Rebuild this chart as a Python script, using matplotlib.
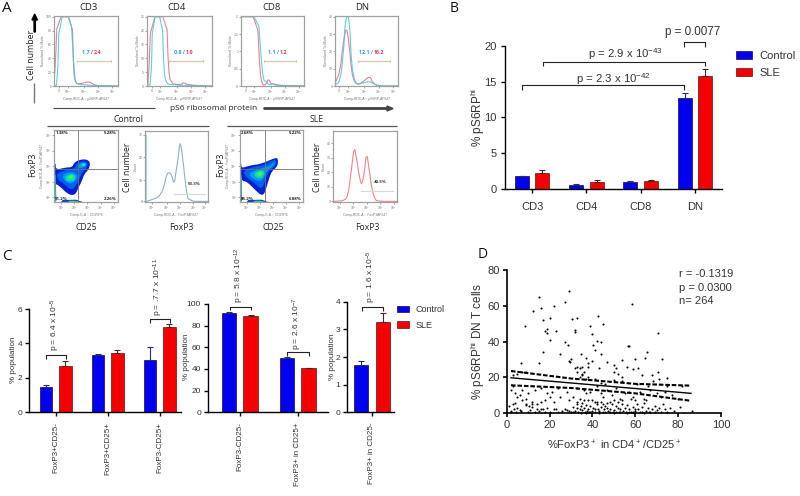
import numpy as np
import matplotlib
matplotlib.use('Agg')
import matplotlib.pyplot as plt
from matplotlib.patches import FancyArrow, Polygon

plt.rcParams['font.family'] = ['Liberation Sans', 'DejaVu Sans']
plt.rcParams['mathtext.default'] = 'regular'

BLUE = '#0000f0'
RED = '#f50000'
DARK = '#333333'
W, H = 800, 496

# ---------- panel B ----------
b_cats = ['CD3', 'CD4', 'CD8', 'DN']
b_control = [1.8, 0.6, 1.0, 12.7]
b_sle = [2.3, 1.0, 1.1, 15.8]
b_control_err = [0.07, 0.08, 0.06, 0.7]
b_sle_err = [0.3, 0.3, 0.15, 1.0]

# ---------- panel C ----------
c1_cats = ['FoxP3+CD25-', 'FoxP3+CD25+', 'FoxP3-CD25+']
c1_control = [1.45, 3.33, 3.04]
c1_sle = [2.7, 3.44, 4.93]
c1_control_err = [0.14, 0.04, 0.73]
c1_sle_err = [0.3, 0.15, 0.22]

c2_cats = ['FoxP3-CD25-', 'FoxP3+ in CD25+']
c2_control = [92, 50]
c2_sle = [89, 40.5]
c2_control_err = [0.5, 1.0]
c2_sle_err = [0.5, 0.8]

c3_cats = ['FoxP3+ in CD25-']
c3_control = [1.7]
c3_sle = [3.25]
c3_control_err = [0.14]
c3_sle_err = [0.34]

# ---------- panel D ----------
d_upper = [(15,65),(29,68.5),(16,59),(12.5,57),(22,60),(27,62),(58.5,61),(8.5,48.5),(17,52),(20,53),
 (30.5,52.5),(33,53),(42.5,54),(45,50),(19,47),(18,46),(23,46),(32,46.5),(32,45.5),(39,48.5),
 (40,44),(19,44.5),(20,41),(27,40),(28.5,38),(42,40.5),(44,39.5),(40.5,38),(41,35),(17,34),
 (25,33),(34.5,33),(44,33),(70.5,45),(65.5,34),(57,37.5),(56.5,37.5),(64.5,31),(60,30),(72.5,30),
 (54,29.5),(6.5,28),(15,28),(29,29),(30,30),(29.5,28.5),(37,31),(38,28),(40,29),(47,28.5),
 (50,27),(51,25),(33,26),(32,25),(34,25),(35,26),(38,26),(43,25),(56,26),(59,24.5),
 (61.5,25),(50,23),(52,22),(70.5,23),(68,21.5),(63,21.5),(75,19.5),(7,23),(9,23),(5,22),
 (3,21),(33,23),(35,22),(36,23),(35,21),(34,20),(38,20),(41,19),(50,18.5),(54,20),
 (54,18),(71,19),(68.5,18),(37,19),(46,16),(44,17),(61,16),(66,15),(75,15),(82,15)]
d_middle = [(2,13),(3,15),(4,11),(5,9),(6,10),(7,13),(9,8),(10,11),(13,13),(16,14),
 (19,11),(20,9),(21,12),(24,14),(25,9),(28,12),(31,9),(33,14),(36,13),(37,11),
 (34,8),(39,12),(42,15),(44,11),(45,9),(47,13),(49,10),(51,14),(53,8),(55,11),
 (57,12),(59,9),(62,12),(64,8),(67,13),(70,11),(72,9),(74,12),(77,10),(80,8),
 (36,7),(38,7),(40,7),(42,6),(44,6),(50,7),(52,6),(54,7),(58,8),(60,7),
 (16,6),(12,6),(9,5),(14,5),(18,7),(22,6),(29,7),(33,6),(48,6),(65,7)]
d_lower = [(1,4),(2,1),(2,0.5),(3,5),(3.5,2),(4,5.5),(4.5,0.5),(5,3),(6,1.5),(6.5,1.3),
 (7,7),(9,4.5),(10.5,4),(12,3.5),(12,5),(14,2),(15,1),(16,2.5),(17,2.5),(19,3),
 (20,0.5),(22,2.5),(23,2),(26,1),(27,2.5),(28,1.5),(30,0.5),(31,3.5),(32,1),(33,3),
 (33.5,0.5),(34,2),(34.5,4),(35,1.5),(36,3),(36.5,0.5),(37,4.5),(37.5,1),(38,2.5),(38.5,0.3),
 (39,4),(40,1),(40.5,3),(41,0.5),(42,5),(42.5,2),(43,1),(44,3.5),(45,0.5),(45.5,2),
 (46,4),(47,3),(47.5,1),(48,2.5),(49,5),(49.5,0.5),(50,1.5),(51,4),(52,3),(52.5,0.3),
 (53,2),(54,5),(54.5,1),(55,3),(55.5,0.5),(56,4.5),(57,2),(58,0.5),(59,3.5),(60,1),
 (61,5),(61.5,2),(62,0.3),(63,3.5),(64,5.5),(65,1),(66,3),(66.5,0.5),(68,2),(69,4),
 (70,1.5),(71,3),(72,0.5),(73,5),(74,2),(75,0.5),(76,3),(78,1),(81,3.5),(86.5,1),
 (10,0.3),(11,1.5),(13,0.5),(18,0.4),(24,0.4),(29,1),(31,0.3),(34.5,0.2),(37,0.2),(39,0.6),
 (41,2),(43,0.2),(46,0.3),(48,0.4),(50,0.2),(51,0.6),(53,0.5),(56,0.2),(57,0.8),(59,0.3),
 (60,2.5),(63,0.6),(64,0.2),(67,0.4),(69,0.5),(33,5),(35,5.5),(41,6),(45,5),(47,5.5)]
d_points = d_upper + d_middle + d_lower
d_x = [p[0] for p in d_points]
d_y = [p[1] for p in d_points]
d_fit_x = [2, 86]
d_fit_y = [19.7, 11.0]
d_ci_x = [2, 30, 60, 86]
d_ci_hi = [23.5, 19.3, 16.3, 15.3]
d_ci_lo = [15.5, 14.0, 11.0, 6.8]

# ---------- panel A: histogram traces (crop units of the flow plots) ----------
cd3_cyan = [(42,242),(52,240),(58,33),(93,33),(100,150),(105,225),(112,238),(140,240),(170,242),(235,243)]
cd3_red = [(42,225),(46,180),(52,33),(97,33),(101,200),(107,235),(120,237),(148,229),(160,238),(175,242),(235,243)]
cd4_cyan = [(320,240),(333,240),(338,33),(366,33),(372,200),(378,232),(390,240),(515,243)]
cd4_red = [(320,240),(325,235),(333,33),(380,33),(385,190),(392,235),(420,240),(432,232),(442,240),(515,243)]
cd8_cyan = [(47,33),(100,33),(108,150),(115,225),(125,230),(132,240),(145,236),(155,242),(238,243)]
cd8_red = [(47,33),(97,33),(105,200),(112,240),(122,240),(131,220),(140,240),(238,243)]
dn_cyan = [(330,240),(345,230),(355,150),(362,33),(373,33),(380,180),(390,232),(400,238),(420,232),(432,230),(440,232),(460,243),(520,243)]
dn_red = [(330,235),(345,200),(355,110),(364,62),(372,110),(380,200),(390,235),(405,238),(420,225),(435,213),(445,235),(460,243),(520,243)]
fox_ctrl = [(333,231),(335,230),(350,225),(370,218),(385,195),(395,150),(402,142),(410,150),(418,180),(425,130),(430,100),(435,52),(440,70),(447,130),(455,200),(462,230),(520,230)]
fox_sle = [(325,230),(360,228),(370,210),(380,130),(388,62),(395,100),(405,165),(411,180),(418,140),(425,80),(432,130),(440,190),(450,225),(460,230),(515,230)]

# density outlines, outer to inner
dens1_levels = [
 ('#0a20d0', [(60,112),(63,135),(92,128),(112,127),(118,112),(140,103),(160,105),(166,118),(160,135),(148,148),(140,170),(130,190),(122,208),(110,212),(95,205),(80,190),(65,178),(60,180)]),
 ('#0060f0', [(65,145),(95,135),(120,130),(125,115),(145,108),(158,112),(155,130),(140,145),(130,170),(115,195),(100,190),(85,175),(68,165)]),
 ('#00a0f0', [(80,150),(110,140),(128,150),(125,165),(108,178),(90,170)]),
 ('#00a0f0', [(130,118),(150,112),(155,122),(140,130),(130,128)]),
 ('#10e0a0', [(92,155),(110,145),(122,155),(118,168),(102,170),(92,165)]),
 ('#20e0e0', [(140,116),(150,114),(152,122),(142,125)]),
 ('#50f050', [(100,155),(112,150),(116,157),(106,164)]),
]
dens2_levels = [
 ('#0a20d0', [(48,118),(50,130),(75,122),(110,117),(155,97),(160,105),(158,125),(140,140),(130,170),(120,205),(110,213),(90,195),(65,170),(48,168)]),
 ('#0060f0', [(53,138),(90,125),(120,120),(150,102),(155,112),(150,125),(130,140),(120,170),(110,195),(90,175),(65,160)]),
 ('#00a0f0', [(70,145),(110,130),(135,125),(148,110),(150,120),(125,138),(115,165),(100,170),(80,160)]),
 ('#10e0a0', [(85,145),(110,135),(120,142),(112,160),(95,160)]),
 ('#50f050', [(95,148),(108,140),(113,148),(105,155)]),
]

fig = plt.figure(figsize=(W/100, H/100), dpi=100)


def axpx(x0, y0, x1, y1):
    return fig.add_axes([x0/W, 1-y1/H, (x1-x0)/W, (y1-y0)/H])


def rounded(pts, closed=True, n=2):
    p = np.asarray(pts, float)
    for _ in range(n):
        q = np.roll(p, -1, axis=0) if closed else p[1:]
        a = p if closed else p[:-1]
        r = np.empty((2*len(a), 2))
        r[0::2] = 0.75*a + 0.25*q
        r[1::2] = 0.25*a + 0.75*q
        p = r if closed else np.vstack([p[:1], r, p[-1:]])
    return p


ov = fig.add_axes([0, 0, 1, 1], zorder=10)
ov.set_xlim(0, W); ov.set_ylim(H, 0); ov.axis('off'); ov.patch.set_alpha(0)


def T(x, y, s, size=8, color=DARK, rot=0, ha='center', va='center', **kw):
    ov.text(x, y, s, fontsize=size, color=color, rotation=rot, ha=ha, va=va, **kw)


def L(xs, ys, color='k', lw=0.8):
    ov.plot(xs, ys, color=color, lw=lw, solid_capstyle='butt')


def bracket(x0, x1, y, tip):
    L([x0, x0, x1, x1], [tip, y, y, tip], color='#222222', lw=0.8)


def bars(ax, ctrl, sle, cerr, serr, cats, width, off, size, rot=0):
    x = np.arange(len(cats))
    ax.bar(x-off, ctrl, width, color=BLUE, edgecolor='#200050', lw=0.5, label='Control',
           yerr=[np.zeros(len(ctrl)), cerr], error_kw=dict(ecolor='#203060', lw=0.8, capsize=2, capthick=0.8))
    ax.bar(x+off, sle, width, color=RED, edgecolor='#601010', lw=0.5, label='SLE',
           yerr=[np.zeros(len(sle)), serr], error_kw=dict(ecolor='#502020', lw=0.8, capsize=2, capthick=0.8))
    ax.set_xticks(x)
    ax.set_xticklabels(cats, rotation=rot, fontsize=size, color=DARK)
    ax.patch.set_alpha(0)
    for s in ('top', 'right'):
        ax.spines[s].set_visible(False)
    for s in ('left', 'bottom'):
        ax.spines[s].set_linewidth(1.0)
    ax.tick_params(axis='both', width=1.0, length=3, colors='k', labelcolor=DARK, pad=2)


# ---------- B ----------
axb = axpx(505, 45.7, 722, 189)
bars(axb, b_control, b_sle, b_control_err, b_sle_err, b_cats, 14/54.2, 10.2/54.2, 8)
axb.set_xlim(-0.5, 3.5); axb.set_ylim(0, 20)
axb.set_yticks([0, 5, 10, 15, 20])
axb.tick_params(axis='both', labelsize=8, pad=3)
axb.tick_params(axis='x', pad=6)
T(477.7, 118, '% pS6RP$^{hi}$', 8.5, rot=90)
bracket(522.3, 684.3, 85.3, 90)
bracket(542.7, 705, 61.7, 66)
bracket(683.7, 705, 42.3, 47.3)
T(614, 79, 'p = 2.3 x 10$^{-42}$', 8.2)
T(626, 54, 'p = 2.9 x 10$^{-43}$', 8.2)
T(693, 32, 'p = 0.0077', 8.4)
h, l = axb.get_legend_handles_labels()
fig.legend(h, l, loc='upper left', bbox_to_anchor=(735.5/W, 1-51/H), frameon=False, fontsize=8,
           borderpad=0, borderaxespad=0, handlelength=1.45, handleheight=0.75,
           handletextpad=0.72, labelspacing=0.62, labelcolor=DARK)

# ---------- C ----------
axc1 = axpx(29.3, 309, 181, 412.3)
bars(axc1, c1_control, c1_sle, c1_control_err, c1_sle_err, c1_cats, 12.7/52, 9.7/52, 5.8, 90)
axc1.set_xlim(-0.508, 2.41); axc1.set_ylim(0, 6); axc1.set_yticks([0, 2, 4, 6])
axc1.tick_params(axis='y', labelsize=6)
axc1.tick_params(axis='x', pad=4)
T(13.3, 360, '% population', 5.8, rot=90)

axc2 = axpx(208, 304, 328, 412.3)
bars(axc2, c2_control, c2_sle, c2_control_err, c2_sle_err, c2_cats, 14.7/58, 10.8/58, 5.8, 90)
axc2.set_xlim(-0.55, 1.52); axc2.set_ylim(0, 100); axc2.set_yticks(range(0, 101, 20))
axc2.tick_params(axis='y', labelsize=6)
axc2.tick_params(axis='x', pad=4)
T(186.7, 357, '% population', 5.8, rot=90)

axc3 = axpx(347, 301.7, 394, 412.3)
bars(axc3, c3_control, c3_sle, c3_control_err, c3_sle_err, c3_cats, 14.7/47, 11/47, 5.8, 90)
axc3.set_xlim(-0.53, 0.47); axc3.set_ylim(0, 4); axc3.set_yticks(range(0, 5))
axc3.tick_params(axis='y', labelsize=6)
axc3.tick_params(axis='x', pad=4)
T(332, 356.7, '% population', 5.8, rot=90)

bracket(45.7, 65.7, 355, 359)
bracket(149.7, 170, 319, 322.7)
bracket(229.7, 251.3, 306.7, 310)
bracket(287.3, 309.3, 352.3, 356)
bracket(362, 383.3, 307.3, 311)
T(55, 351, 'p = 6.4 x 10$^{-5}$', 6, rot=90, va='bottom')
T(158, 316, 'p = .7.7 x 10$^{-11}$', 6, rot=90, va='bottom')
T(239, 303, 'p = 5.8 x 10$^{-12}$', 6, rot=90, va='bottom')
T(297.5, 349.5, 'p = 2.6 x 10$^{-7}$', 6, rot=90, va='bottom')
T(371, 303, 'p = 1.6 x 10$^{-5}$', 6, rot=90, va='bottom')
h, l = axc3.get_legend_handles_labels()
fig.legend(h, l, loc='upper left', bbox_to_anchor=(397/W, 1-305/H), frameon=False, fontsize=6.5,
           borderpad=0, borderaxespad=0, handlelength=1.3, handleheight=0.7,
           handletextpad=0.75, labelspacing=0.75, labelcolor=DARK)

# ---------- D ----------
axd = axpx(506.7, 270, 721, 413)
axd.scatter(d_x, d_y, s=2.2, color='k', marker='o', linewidths=0, clip_on=False)
axd.plot(d_fit_x, d_fit_y, color='k', lw=1.0)
axd.plot(d_ci_x, d_ci_hi, color='k', lw=1.5, dashes=(2.2, 0.9))
axd.plot(d_ci_x, d_ci_lo, color='k', lw=1.5, dashes=(2.2, 0.9))
axd.set_xlim(0, 100); axd.set_ylim(0, 80)
axd.set_xticks(range(0, 101, 20)); axd.set_yticks(range(0, 81, 20))
axd.patch.set_alpha(0)
for s in ('top', 'right'):
    axd.spines[s].set_visible(False)
for s in ('left', 'bottom'):
    axd.spines[s].set_linewidth(1.2)
axd.tick_params(width=1.2, length=3, labelsize=8, labelcolor=DARK, pad=2)
T(478, 342, '% pS6RP$^{hi}$ DN T cells', 8.5, rot=90)
T(614, 445, '%FoxP3$^+$ in CD4$^+$/CD25$^+$', 8)
T(679, 274, 'r = -0.1319', 8, ha='left')
T(679, 288, 'p = 0.0300', 8, ha='left')
T(679, 301.5, 'n= 264', 8, ha='left')


# ---------- A ----------
def flow_ax(box, xlim, ylim, xticks, yticks, xlabels, ylabels, xname, yname):
    ax = axpx(*box)
    ax.set_xlim(*xlim); ax.set_ylim(*ylim)
    for s in ax.spines.values():
        s.set_color('#a0a0a0'); s.set_linewidth(0.9)
    ax.set_xticks(xticks); ax.set_xticklabels(xlabels, fontsize=2.4, color='#777777')
    ax.set_yticks(yticks); ax.set_yticklabels(ylabels, fontsize=2.4, color='#777777')
    ax.tick_params(length=1.2, width=0.4, color='#666666', pad=0.6)
    ax.set_xlabel(xname, fontsize=2.4, color='#777777', labelpad=0.8)
    ax.set_ylabel(yname, fontsize=2.4, color='#777777', labelpad=0.6)
    return ax


def trace(ax, pts, color, lw=0.8):
    p = rounded(pts, closed=False, n=1)
    ax.plot(p[:, 0], p[:, 1], color=color, lw=lw, alpha=0.85)


CYAN = '#40c8d8'
PINK = '#e86a80'
XN = 'Comp-RDC-A :: pS6RP-AF647'
YN = 'Normalized To Mode'
LOGS = ['0', '$10^2$', '$10^3$', '$10^4$', '$10^5$']
top = [
 ('CD3', (54, 15.7, 118, 86), (42, 235), (57, 83, 132, 175, 218), ['0', '20', '40', '60', '80', '100'], cd3_cyan, cd3_red, (112, 213), ('1.7', '2.4'), 89),
 ('CD4', (146.7, 15.7, 211.7, 86), (320, 515), (335, 361, 410, 453, 495), ['0', '5', '10', '15', '20', '25'], cd4_cyan, cd4_red, (388, 488), ('0.8', '1.0'), 176.7),
 ('CD8', (240.7, 15.7, 304, 86), (47, 238), (62, 88, 138, 180, 222), ['0', '0.5', '1', '1.5', '2'], cd8_cyan, cd8_red, (118, 215), ('1.1', '1.2'), 272),
 ('DN', (335, 15.7, 398, 86), (330, 520), (343, 370, 418, 462, 505), ['0', '10', '20', '30', '40'], dn_cyan, dn_red, (398, 497), ('12.1', '16.2'), 362),
]
for name, box, xlim, xt, ylab, cy, rd, gate, vals, cx in top:
    ax = flow_ax(box, xlim, (243, 30), xt, np.linspace(243, 33, len(ylab)), LOGS, ylab, XN, YN)
    trace(ax, rd, PINK, 0.8)
    trace(ax, cy, CYAN, 0.8)
    ax.plot(gate, [166, 166], color='#d8c8a8', lw=0.9)
    ax.plot([gate[0]]*2, [163, 169], color='#d8c8a8', lw=0.6)
    ax.plot([gate[1]]*2, [163, 169], color='#d8c8a8', lw=0.6)
    mid = (gate[0]+gate[1])/2 - 2
    ax.text(mid-2, 143, vals[0]+' /', color='#3090e0', fontsize=3.8, fontweight='bold', ha='right', va='center',
            family=['Open Sans'])
    ax.text(mid, 143, vals[1], color='#e83050', fontsize=3.8, fontweight='bold', ha='left', va='center',
            family=['Open Sans'])
    T(cx, 7.5, name, 6.8, color='#222222', family=['Open Sans'])

# density panels
DN_X = 'Comp-G-A :: CD25PE'
DN_Y = 'Comp-RDC-A :: FoxP3AF647'
for box, xlim, levels, labs, vx, vy in [
    ((54.3, 130, 117.7, 202), (58, 248), dens1_levels, ('1.38%', '5.28%', '91.2%', '2.26%'), 130, 132),
    ((240, 130, 303, 202), (45, 235), dens2_levels, ('2.68%', '5.22%', '85.2%', '6.88%'), 120, 132)]:
    ax = flow_ax(box, xlim, (232, 15), np.linspace(xlim[0]+20, xlim[1]-12, 5),
                 np.linspace(218, 30, 5), ['$10^1$', '$10^2$', '$10^3$', '$10^4$', '$10^5$'],
                 ['$10^1$', '$10^2$', '$10^3$', '$10^4$', '$10^5$'], DN_X, DN_Y)
    for c, pts in levels:
        ax.add_patch(Polygon(rounded(pts), closed=True, facecolor=c, edgecolor='none', zorder=1.5))
    x0 = xlim[0]
    ax.add_patch(Polygon([(x0, 112), (x0+4, 118), (x0+6, 230), (x0, 230)], facecolor='#0a40d0', edgecolor='none', zorder=1.6))
    ax.add_patch(Polygon([(x0+1, 150), (x0+4, 150), (x0+5, 228), (x0+1, 228)], facecolor='#30d0b0', edgecolor='none', zorder=1.7))
    ax.add_patch(Polygon([(x0+20, 232), (x0+25, 226), (x0+65, 225), (x0+85, 232)], facecolor='#0a40d0', edgecolor='none', zorder=1.6))
    ax.add_patch(Polygon([(x0+40, 232), (x0+45, 228), (x0+62, 228), (x0+75, 232)], facecolor='#30d080', edgecolor='none', zorder=1.7))
    ax.axvline(vx, color='#707070', lw=0.6, zorder=2)
    ax.axhline(vy, color='#707070', lw=0.6, zorder=2)
    kw = dict(fontsize=3.2, color='#222222', fontweight='bold', zorder=3, va='center', family=['Open Sans'])
    ax.text(x0+3, 25, labs[0], ha='left', **kw)
    ax.text(xlim[1]-4, 25, labs[1], ha='right', **kw)
    ax.text(x0+3, 222, labs[2], ha='left', **kw)
    ax.text(xlim[1]-4, 222, labs[3], ha='right', **kw)

ax = flow_ax((145, 131, 208, 202), (330, 520), (232, 18), (350, 395, 435, 475, 510), (230, 167, 97, 30),
             ['$10^1$', '$10^2$', '$10^3$', '$10^4$', '$10^5$'], ['0', '10', '20', '30'], 'Comp-RDC-A :: FoxP3AF647', 'Count')
ax.plot([333, 333], [30, 230], color='#a8dce8', lw=0.8)
trace(ax, fox_ctrl, '#7fa0bc', 0.8)
ax.plot([418, 510], [207, 207], color='#d0d8d8', lw=0.8)
ax.text(477, 178, '53.3%', fontsize=3.2, fontweight='bold', color='#333333', ha='center', va='center', family=['Open Sans'])

ax = flow_ax((333, 131, 397, 202), (325, 515), (232, 15), (345, 385, 425, 465, 505), (230, 186, 141, 97, 52),
             ['$10^1$', '$10^2$', '$10^3$', '$10^4$', '$10^5$'], ['0', '10', '20', '30', '40'], 'Comp-RDC-A :: FoxP3AF647', 'Count')
trace(ax, fox_sle, '#e87078', 0.8)
ax.plot([407, 503], [197, 197], color='#d8d8d8', lw=0.8)
ax.text(466, 170, '40.5%', fontsize=3.2, fontweight='bold', color='#333333', ha='center', va='center', family=['Open Sans'])

OS = dict(family=['Open Sans'], color='#222222')
T(32, 55, 'Cell number', 6.3, rot=90, **OS)
ov.add_patch(FancyArrow(34.7, 32, 0, -18, width=1.3, head_width=5.5, head_length=6,
                        length_includes_head=True, color='k'))
L([34, 34], [83, 103], color='#777777', lw=1)
T(214, 109, 'pS6 ribosomal protein', 6, **OS)
L([53, 155], [108, 108], color='#444444', lw=0.8)
ov.add_patch(FancyArrow(264, 108.5, 129, 0, width=1.4, head_width=5, head_length=6,
                        length_includes_head=True, color='#444444'))
T(129, 120, 'Control', 6.2, **OS)
T(317, 120, 'SLE', 6.2, **OS)
L([47, 209], [125.5, 125.5], color='#555555', lw=0.9)
L([227, 397], [125.5, 125.5], color='#555555', lw=0.9)
for x, y, s, r in [(33, 165, 'FoxP3', 90), (86, 227, 'CD25', 0), (181, 227, 'FoxP3', 0),
                   (128, 167, 'Cell number', 90), (221, 165, 'FoxP3', 90), (273, 227, 'CD25', 0),
                   (317, 167, 'Cell number', 90), (367, 227, 'FoxP3', 0)]:
    T(x, y, s, 6.2, rot=r, **OS)

T(7, 9, 'A', 11, color='#111111', family=['Open Sans'])
T(453.7, 9, 'B', 10, color='#111111', family=['Open Sans'])
T(7, 256, 'C', 11, color='#111111', family=['Open Sans'])
T(483, 255, 'D', 10, color='#111111', family=['Open Sans'])

fig.savefig('out.png', dpi=100)
